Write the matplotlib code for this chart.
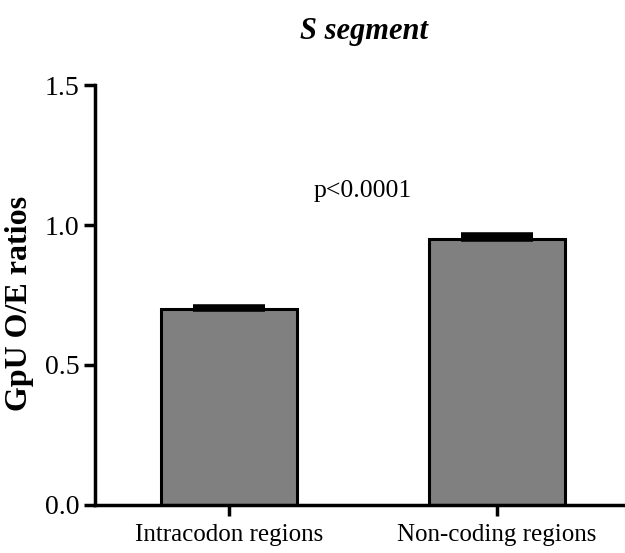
import matplotlib
matplotlib.use("Agg")
import matplotlib.pyplot as plt

# GpU observed/expected ratios, S segment
regions = ['Intracodon regions', 'Non-coding regions']
ratios = [0.70, 0.95]
sem = [0.006, 0.014]
p_label = 'p<0.0001'

plt.rcParams['font.family'] = 'Liberation Serif'

fig = plt.figure(figsize=(6.25, 5.53), dpi=100)
ax = fig.add_axes([0.152, 0.087, 0.848, 0.759])

x = range(len(regions))
# upper error only
ax.bar(x, ratios, width=0.507, color='#808080', edgecolor='black', linewidth=2.2,
       yerr=[[0] * len(sem), sem],
       error_kw=dict(ecolor='black', elinewidth=2, capsize=26, capthick=4),
       zorder=2)

ax.set_xlim(-0.5, 1.478)
ax.set_ylim(0, 1.5)
ax.set_yticks([0.0, 0.5, 1.0, 1.5])
ax.set_yticklabels(['0.0', '0.5', '1.0', '1.5'])
ax.set_xticks(list(x))
ax.set_xticklabels(regions)

for side in ['top', 'right']:
    ax.spines[side].set_visible(False)
for side in ['left', 'bottom']:
    ax.spines[side].set_linewidth(2.5)
ax.tick_params(axis='both', width=2.5, length=8, colors='black')
ax.tick_params(axis='y', labelsize=20, pad=3)
ax.tick_params(axis='x', labelsize=18, pad=6)

ax.set_ylabel('GpU O/E ratios', fontsize=23, fontweight='bold')
ax.yaxis.set_label_coords(-0.115, 0.48)
ax.text(0.5, 1.12, p_label, ha='center', va='center', fontsize=18.5)
fig.suptitle('S segment', x=0.582, y=0.97, fontsize=22, fontweight='bold', style='italic')

fig.savefig('out.png', dpi=100)
